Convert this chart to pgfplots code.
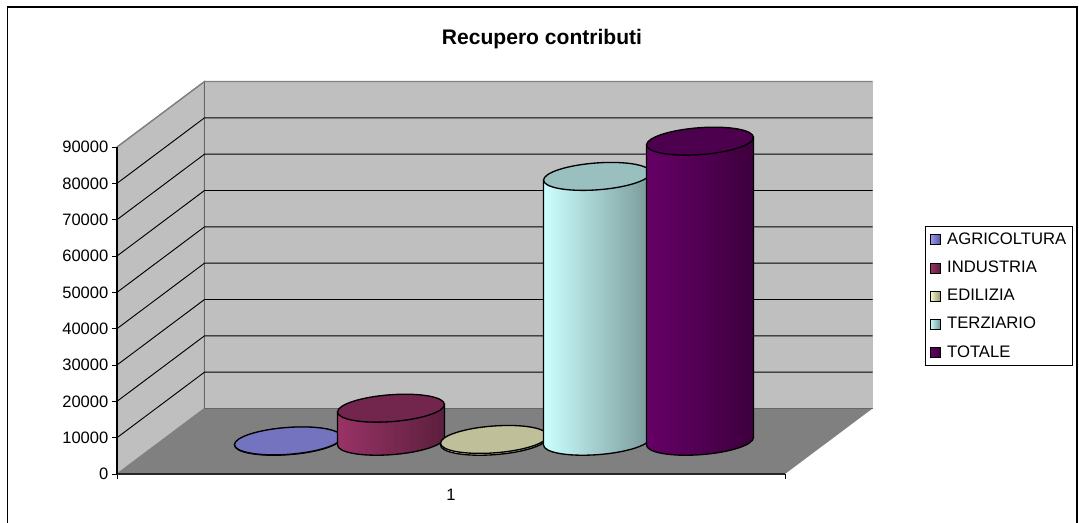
\documentclass[border=0pt]{standalone}
\usepackage{fontspec}
\setmainfont{Liberation Sans}
\usepackage{pgfplots}
\usepackage{pgfplotstable}
\pgfplotsset{compat=1.18}

% picture is laid out in reference pixels: 1px = 0.75pt
% x axis runs in pixels, y axis in data units (327px = 90000)
\definecolor{agriL}{HTML}{9999FF}\definecolor{agriR}{HTML}{5C5C99}\definecolor{agriT}{HTML}{7373BF}
\definecolor{induL}{HTML}{993366}\definecolor{induR}{HTML}{5C1F3D}\definecolor{induT}{HTML}{73264D}
\definecolor{ediL}{HTML}{FFFFCC}\definecolor{ediR}{HTML}{99997A}\definecolor{ediT}{HTML}{BFBF99}
\definecolor{terL}{HTML}{CCFFFF}\definecolor{terR}{HTML}{7A9999}\definecolor{terT}{HTML}{99BFBF}
\definecolor{totL}{HTML}{660066}\definecolor{totR}{HTML}{3D003D}\definecolor{totT}{HTML}{4D004D}

% tilted ellipse, pure pgf so that the mark stays where the axis puts it
\newcommand\cylellipse{\pgfpathellipse{\pgfpointorigin}{\pgfqpoint{40.1pt}{2.8pt}}{\pgfqpoint{0pt}{10.1pt}}}
\newcommand\cylmarks[1]{%
  \pgfdeclarehorizontalshading{#1shade}{100bp}{color(0bp)=(#1L); color(25bp)=(#1L); color(75bp)=(#1R); color(100bp)=(#1R)}%
  \pgfdeclareplotmark{#1base}{\pgfsetlinewidth{1pt}\pgfsetstrokecolor{black}\cylellipse\pgfshadepath{#1shade}{0}\pgfusepath{stroke}}%
  \pgfdeclareplotmark{#1cap}{\pgfsetlinewidth{1pt}\pgfsetstrokecolor{black}\pgfsetfillcolor{#1T}\cylellipse\pgfusepath{fill,stroke}}%
}
\cylmarks{agri}\cylmarks{indu}\cylmarks{edi}\cylmarks{ter}\cylmarks{tot}

% unit outline of a cylinder side: dx across, h up, s = tilt of the ellipse
\pgfplotstableread{
dx h s
-1 0 -1
-1 1 -1
1 1 1
1 0 1
}\cylside

% args: colour prefix, centre x (px), value, legend text
\newcommand\cylinder[4]{%
  \addplot[forget plot,only marks,mark=#1base] coordinates {(#2,9014)};
  \addplot[draw=none,left color=#1L,right color=#1R,
    legend image code/.code={\draw[fill=#1L,draw=black,line width=0.75pt] (0pt,-3.75pt) rectangle (7.5pt,3.75pt);}]
    table[x expr=#2+\thisrow{dx}*53.5,y expr=9014+\thisrow{h}*#3+\thisrow{s}*1030] {\cylside} --cycle;
  \addlegendentry{\hspace*{3pt}#4}
  \addplot[forget plot,black,line width=1pt,no marks]
    table[x expr=#2+\thisrow{dx}*53.5,y expr=9014+\thisrow{h}*#3+\thisrow{s}*1030] {\cylside};
  \addplot[forget plot,only marks,mark=#1cap,y filter/.expression={y+9014}] coordinates {(#2,#3)};
}

\begin{document}
\begin{tikzpicture}
\useasboundingbox (0,0) rectangle (809.25pt,391.5pt);
\draw[black,line width=1.2pt] (5.6pt,-5pt) rectangle (807.75pt,386.25pt);
\begin{axis}[
    at={(87.75pt,36pt)},
    anchor=south west,
    scale only axis,
    width=501pt,
    height=245.25pt,
    xmin=117, xmax=785,
    ymin=0, ymax=90000,
    clip=false,
    clip mode=individual,
    axis on top,
    axis lines=left,
    axis line style={-},
    x axis line style={line width=1.5pt,color=black!85},
    y axis line style={line width=1pt,color=black},
    xtick={117,785},
    xticklabels={},
    extra x ticks={451},
    extra x tick labels={1},
    extra x tick style={major tick length=0pt,tick label style={yshift=-7.5pt}},
    ytick={0,10000,...,90000},
    tick align=outside,
    major tick length=3.75pt,
    tick style={black,line width=0.75pt},
    scaled y ticks=false,
    /pgf/number format/assume math mode=true,
    /pgf/number format/1000 sep={},
    tick label style={font=\fontsize{12.4pt}{14pt}\selectfont},
    yticklabel style={xshift=0.75pt},
    every axis title shift=0pt,
    title={\textbf{Recupero contributi}},
    title style={at={(axis cs:542,119700)},anchor=center,font=\fontsize{15.8pt}{18pt}\selectfont},
    legend style={at={(axis cs:925,68257)},anchor=north west,draw=black,line width=0.75pt,
      font=\fontsize{12.5pt}{14pt}\selectfont,row sep=6.85pt,inner sep=3pt},
    legend cell align=left,
]
% floor and walls
\addplot[forget plot,fill=black!50,draw=none] coordinates {(117,0)(785,0)(872.5,18028)(204.5,18028)} --cycle;
\addplot[forget plot,fill=black!25,draw=black!50,line width=0.9pt] coordinates {(117,0)(204.5,18028)(204.5,108028)(117,90000)} --cycle;
\addplot[forget plot,fill=black!25,draw=none] coordinates {(204.5,18028)(872.5,18028)(872.5,108028)(204.5,108028)} --cycle;
\addplot[forget plot,black!60,line width=1pt] coordinates {(204.5,108028)(204.5,18028)(872.5,18028)};
\addplot[forget plot,black!50,line width=0.9pt] coordinates {(117,90000)(204.5,108028)(872.5,108028)};
% gridlines
\addplot[forget plot,black,line width=0.7pt,unbounded coords=jump] coordinates {
  (117,10000)(204.5,28028)(872.5,28028)(nan,nan)
  (117,20000)(204.5,38028)(872.5,38028)(nan,nan)
  (117,30000)(204.5,48028)(872.5,48028)(nan,nan)
  (117,40000)(204.5,58028)(872.5,58028)(nan,nan)
  (117,50000)(204.5,68028)(872.5,68028)(nan,nan)
  (117,60000)(204.5,78028)(872.5,78028)(nan,nan)
  (117,70000)(204.5,88028)(872.5,88028)(nan,nan)
  (117,80000)(204.5,98028)(872.5,98028)
};
\cylinder{agri}{288}{100}{AGRICOLTURA}
\cylinder{indu}{391}{9100}{INDUSTRIA}
\cylinder{edi}{494}{500}{EDILIZIA}
\cylinder{ter}{597}{72900}{TERZIARIO}
\cylinder{tot}{700}{82600}{TOTALE}
\end{axis}
\end{tikzpicture}
\end{document}
